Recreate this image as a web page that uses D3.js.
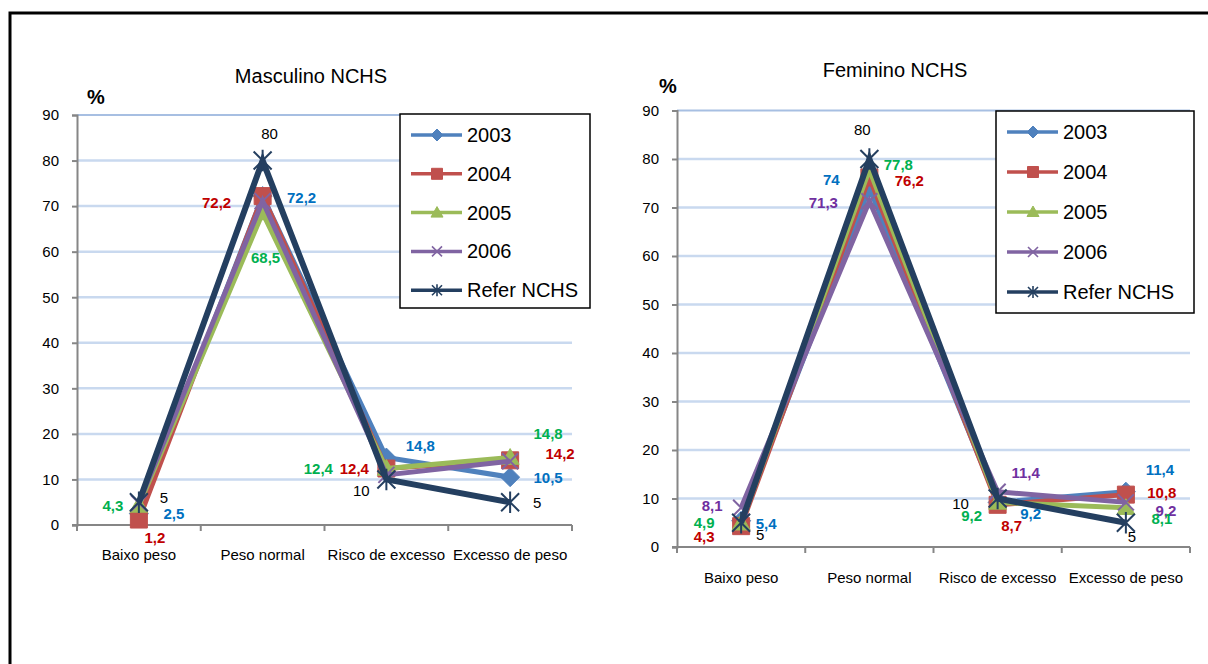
<!DOCTYPE html>
<html>
<head>
<meta charset="utf-8">
<script src="https://cdn.jsdelivr.net/npm/d3@7"></script>
<style>
  html, body { margin: 0; padding: 0; background: #fff; }
  svg { display: block; font-family: "Liberation Sans", Arial, sans-serif; }
</style>
</head>
<body>
<svg id="chart" width="1208" height="664"></svg>
<script>
// Categorias do estado nutricional
const categories = ["Baixo peso", "Peso normal", "Risco de excesso", "Excesso de peso"];
const seriesNames = ["2003", "2004", "2005", "2006", "Refer NCHS"];
const yTicks = [0, 10, 20, 30, 40, 50, 60, 70, 80, 90];

// Masculino (%)
const masc2003 = [2.5, 72.2, 14.8, 10.5];
const masc2004 = [1.2, 72.2, 12.4, 14.2];
const masc2005 = [4.3, 68.5, 12.4, 14.8];
const masc2006 = [4.8, 71.1, 11.0, 14.0];
const mascRef  = [5, 80, 10, 5];

// Feminino (%)
const fem2003 = [5.4, 74, 9.2, 11.4];
const fem2004 = [4.3, 76.2, 8.7, 10.8];
const fem2005 = [4.9, 77.8, 9.2, 8.1];
const fem2006 = [8.1, 71.3, 11.4, 9.2];
const femRef  = [5, 80, 10, 5];

// Series styling
const lineColors  = ["#4f81bd", "#c0504d", "#9bbb59", "#8064a2", "#243f60"];
const labelColors = ["#0070c0", "#c00000", "#00b050", "#7030a0", "#000000"];
const markerTypes = ["diamond", "square", "triangle", "x", "star"];
const lineWidths  = [5, 5, 5, 5, 6];

// Label placement: [series, category, dx, dy] relative to the point
const mascLabelPlacement = [
  [2, 0, -26, 0], [4, 0, 25, -5], [0, 0, 35, 0], [1, 0, 16, 18],
  [4, 1, 7, -27], [1, 1, -46, 6], [0, 1, 39, 1], [2, 1, 3, 45],
  [0, 2, 34, -12], [2, 2, -68, 0], [1, 2, -32, 0], [4, 2, -25, 11],
  [2, 3, 38, -24], [1, 3, 50, -7], [0, 3, 38, 0], [4, 3, 27, 0]
];
const femLabelPlacement = [
  [3, 0, -29, -2], [2, 0, -37, -1], [1, 0, -37, 10], [0, 0, 25, 3], [4, 0, 19, 12],
  [4, 1, -7, -30], [0, 1, -38, -9], [3, 1, -46, 1], [2, 1, 29, -5], [1, 1, 40, 3],
  [3, 2, 28, -19], [4, 2, -37, 5], [2, 2, -26, 13], [1, 2, 14, 21], [0, 2, 33, 11],
  [0, 3, 34, -22], [1, 3, 36, -2], [3, 3, 40, 8], [2, 3, 36, 11], [4, 3, 6, 14]
];

const svg = d3.select("#chart");

// Outer frame
svg.append("rect")
  .attr("x", 10).attr("y", 13).attr("width", 1400).attr("height", 900)
  .attr("fill", "none").attr("stroke", "#000").attr("stroke-width", 3);

function markerPath(type, s) {
  switch (type) {
    case "diamond": return `M0,${-s}L${s},0L0,${s}L${-s},0Z`;
    case "square": return `M${-s},${-s}H${s}V${s}H${-s}Z`;
    case "triangle": return `M0,${-s}L${s},${s * 0.75}L${-s},${s * 0.75}Z`;
    case "x": return `M${-s},${-s}L${s},${s}M${-s},${s}L${s},${-s}`;
    case "star": return `M${-s},${-s}L${s},${s}M${-s},${s}L${s},${-s}M0,${-s * 1.2}V${s * 1.2}`;
  }
}
const strokeMarker = t => t === "x" || t === "star";

function drawMarker(g, type, color, s, sw) {
  g.append("path")
    .attr("d", markerPath(type, s))
    .attr("fill", strokeMarker(type) ? "none" : color)
    .attr("stroke", color)
    .attr("stroke-width", strokeMarker(type) ? sw : 1);
}

const fmt = v => String(v).replace(".", ",");

function drawPanel(p) {
  const x = d3.scaleBand().domain(categories).range([p.left, p.right]).padding(0);
  const y = d3.scaleLinear().domain([0, 90]).range([p.bottom, p.top]);
  const cx = c => x(c) + x.bandwidth() / 2;
  const g = svg.append("g");

  // Gridlines
  g.selectAll("line.grid").data(yTicks.filter(t => t > 0)).join("line")
    .attr("x1", p.left).attr("x2", p.right)
    .attr("y1", d => y(d)).attr("y2", d => y(d))
    .attr("stroke", d => d === 90 ? "#a7bfe2" : "#c9d9ef")
    .attr("stroke-width", d => d === 90 ? 2 : 2.5);

  // Y axis
  const yAxis = g.append("g").attr("transform", `translate(${p.left},0)`)
    .call(d3.axisLeft(y).tickValues(yTicks).tickSize(5).tickPadding(13).tickFormat(d3.format("d")));
  yAxis.select(".domain").attr("stroke", "#868686").attr("stroke-width", 2);
  yAxis.selectAll(".tick line").attr("stroke", "#868686").attr("stroke-width", 2);
  yAxis.selectAll(".tick text").attr("font-size", 15).attr("fill", "#000")
    .attr("font-family", "Liberation Sans, Arial, sans-serif");

  // X axis with ticks on category boundaries
  const xAxisG = g.append("g").attr("transform", `translate(0,${p.bottom})`);
  xAxisG.append("line").attr("x1", p.left - 5).attr("x2", p.right)
    .attr("stroke", "#868686").attr("stroke-width", 2);
  const bounds = categories.map(c => x(c)).concat([p.right]);
  xAxisG.selectAll("line.tk").data(bounds).join("line")
    .attr("x1", d => d).attr("x2", d => d).attr("y1", 0).attr("y2", 6)
    .attr("stroke", "#868686").attr("stroke-width", 2);
  xAxisG.selectAll("text").data(categories).join("text")
    .attr("x", d => cx(d)).attr("y", p.catLabelDy)
    .attr("text-anchor", "middle").attr("dominant-baseline", "central")
    .attr("font-size", 15).attr("fill", "#000").text(d => d);

  // Lines and markers
  const line = d3.line().x((d, i) => cx(categories[i])).y(d => y(d));
  p.series.forEach((vals, si) => {
    g.append("path").datum(vals)
      .attr("d", line).attr("fill", "none")
      .attr("stroke", lineColors[si]).attr("stroke-width", lineWidths[si])
      .attr("stroke-linejoin", "miter");
    vals.forEach((v, ci) => {
      const mg = g.append("g").attr("transform", `translate(${cx(categories[ci])},${y(v)})`);
      const sizes = { diamond: 9.5, square: 8.5, triangle: 9, x: 8, star: 9 };
      drawMarker(mg, markerTypes[si], lineColors[si], sizes[markerTypes[si]], 2);
    });
  });

  // Value labels
  p.labels.forEach(([si, ci, dx, dy]) => {
    const v = p.series[si][ci];
    g.append("text")
      .attr("x", cx(categories[ci]) + dx).attr("y", y(v) + dy)
      .attr("text-anchor", "middle").attr("dominant-baseline", "central")
      .attr("font-size", 15)
      .attr("font-weight", si === 4 ? "normal" : "bold")
      .attr("fill", labelColors[si])
      .text(fmt(v));
  });

  // Title and unit
  g.append("text").attr("x", p.titleX).attr("y", p.titleY)
    .attr("text-anchor", "middle").attr("dominant-baseline", "central")
    .attr("font-size", 20).attr("fill", "#000").text(p.title);
  g.append("text").attr("x", p.pctX).attr("y", p.pctY)
    .attr("text-anchor", "middle").attr("dominant-baseline", "central")
    .attr("font-size", 20).attr("font-weight", "bold").attr("fill", "#000").text("%");

  // Legend
  const lg = g.append("g");
  lg.append("rect")
    .attr("x", p.legend.x).attr("y", p.legend.y)
    .attr("width", p.legend.w).attr("height", p.legend.h)
    .attr("fill", "#fff").attr("stroke", "#000").attr("stroke-width", 1.5);
  seriesNames.forEach((name, si) => {
    const ly = p.legend.y + p.legend.first + si * p.legend.step;
    const lx = p.legend.x + 11;
    lg.append("line").attr("x1", lx).attr("x2", lx + 51).attr("y1", ly).attr("y2", ly)
      .attr("stroke", lineColors[si]).attr("stroke-width", 3.5);
    const mg = lg.append("g").attr("transform", `translate(${lx + 26},${ly})`);
    const sizes = { diamond: 6, square: 5.5, triangle: 6, x: 5, star: 5 };
    drawMarker(mg, markerTypes[si], lineColors[si], sizes[markerTypes[si]], 1.6);
    lg.append("text").attr("x", lx + 56).attr("y", ly)
      .attr("dominant-baseline", "central").attr("font-size", 20).attr("fill", "#000")
      .text(name);
  });
}

drawPanel({
  left: 77, right: 572, top: 115, bottom: 525,
  series: [masc2003, masc2004, masc2005, masc2006, mascRef],
  labels: mascLabelPlacement,
  catLabelDy: 29,
  title: "Masculino NCHS", titleX: 311, titleY: 76,
  pctX: 96, pctY: 97,
  legend: { x: 400, y: 114, w: 190, h: 194, first: 21, step: 38.8 }
});

drawPanel({
  left: 677, right: 1190, top: 110.5, bottom: 547,
  series: [fem2003, fem2004, fem2005, fem2006, femRef],
  labels: femLabelPlacement,
  catLabelDy: 30,
  title: "Feminino NCHS", titleX: 895, titleY: 70,
  pctX: 668, pctY: 86,
  legend: { x: 996, y: 111, w: 198, h: 202, first: 21, step: 40 }
});
</script>
</body>
</html>
